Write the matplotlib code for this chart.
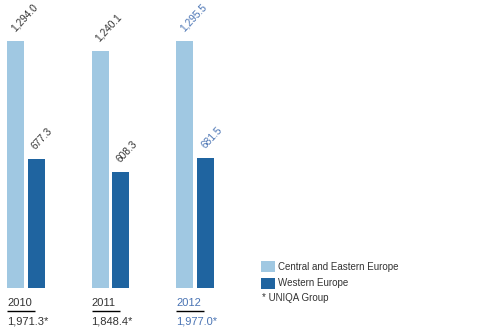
import matplotlib
matplotlib.use("Agg")
import matplotlib.pyplot as plt
from matplotlib.patches import Patch

years = ["2010", "2011", "2012"]
cee = [1294.0, 1240.1, 1295.5]
west = [677.3, 608.3, 681.5]
totals = ["1,971.3*", "1,848.4*", "1,977.0*"]
cee_labels = ["1,294.0", "1,240.1", "1,295.5"]
west_labels = ["677.3", "608.3", "681.5"]
series_names = ["Central and Eastern Europe", "Western Europe"]
footnote = "* UNIQA Group"

LIGHT = "#a0c8e2"
DARK = "#1f64a0"
GRAY = "#333333"
BLUE = "#4a74b4"
text_colors = [GRAY, GRAY, BLUE]

plt.rcParams['font.family'] = ['Liberation Sans', 'DejaVu Sans']

W, H = 480, 335
fig = plt.figure(figsize=(W / 100, H / 100), dpi=100)
bottom_px = 288
ymax = 1400
h_px = ymax / 1294.0 * 247
ax = fig.add_axes([0, (H - bottom_px) / H, 1, h_px / H])
unit = 84.5
ax.set_xlim(-15.5 / unit, (W - 15.5) / unit)
ax.set_ylim(0, ymax)
ax.axis("off")

bw = 17 / unit
off = 21 / unit
xs = list(range(len(years)))
ax.bar([x for x in xs], cee, width=bw, color=LIGHT)
ax.bar([x + off for x in xs], west, width=bw, color=DARK)

for i, x in enumerate(xs):
    c = text_colors[i]
    ax.annotate(cee_labels[i], xy=(x - bw / 2, cee[i]), xytext=(8, 9),
                textcoords="offset pixels", rotation=47, rotation_mode="anchor",
                ha="left", va="baseline", fontsize=7.3, color=c)
    ax.annotate(west_labels[i], xy=(x + off - bw / 2, west[i]), xytext=(8, 9),
                textcoords="offset pixels", rotation=47, rotation_mode="anchor",
                ha="left", va="baseline", fontsize=7.3, color=c)
    ax.annotate(years[i], xy=(x - bw / 2, 0), xytext=(0, -15),
                textcoords="offset pixels", ha="left", va="center",
                fontsize=8, color=c, annotation_clip=False)
    ax.annotate(totals[i], xy=(x - bw / 2, 0), xytext=(0, -34),
                textcoords="offset pixels", ha="left", va="center",
                fontsize=8, color=c, annotation_clip=False)
    x0 = x - bw / 2
    x1 = x0 + 28 / unit
    ax.plot([x0, x1], [-23 / h_px * ymax] * 2, color="black", lw=1.0,
            clip_on=False, solid_capstyle="butt")

handles = [Patch(facecolor=LIGHT, edgecolor="none"), Patch(facecolor=DARK, edgecolor="none")]
fig.legend(handles, series_names, loc="upper left",
           bbox_to_anchor=(259 / W, (H - 259) / H), frameon=False,
           fontsize=7, handlelength=1.4, handleheight=1.4, handletextpad=0.4,
           labelspacing=0.55, borderaxespad=0, borderpad=0.2, labelcolor=GRAY)
fig.text(262 / W, (H - 298) / H, footnote, fontsize=7, color=GRAY, ha="left", va="center")

fig.savefig("out.png", dpi=100)
